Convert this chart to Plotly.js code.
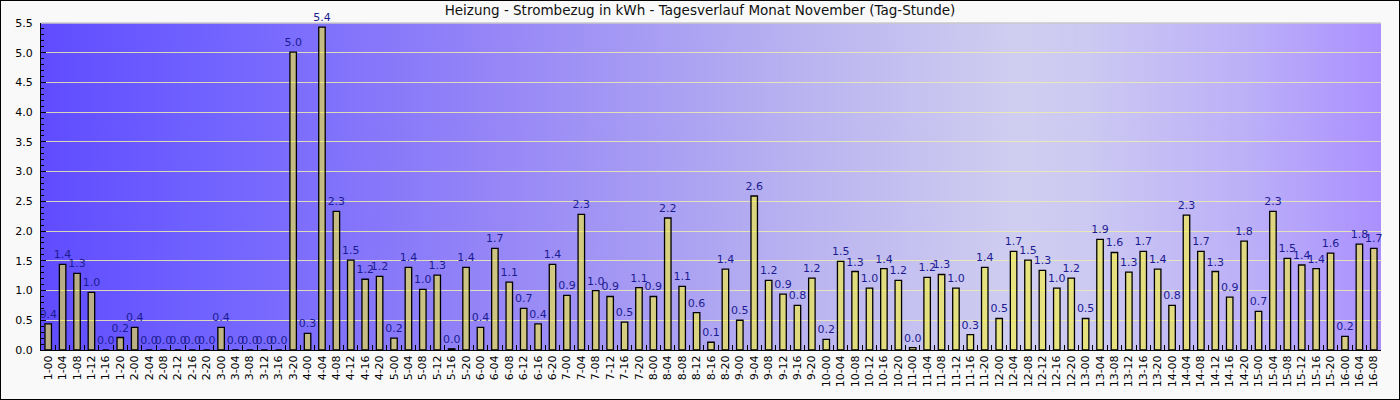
<!DOCTYPE html>
<html>
<head>
<meta charset="utf-8">
<script src="https://cdn.plot.ly/plotly-3.0.1.min.js"></script>
<style>
html,body{margin:0;padding:0;background:#f9f9f9;}
#chart{width:1398px;height:398px;border:1px solid #000;background:#f9f9f9;}
</style>
</head>
<body>
<div id="chart"></div>
<script>
// Category labels (Tag-Stunde)
const categories = [
 "1-00","1-04","1-08","1-12","1-16","1-20",
 "2-00","2-04","2-08","2-12","2-16","2-20",
 "3-00","3-04","3-08","3-12","3-16","3-20",
 "4-00","4-04","4-08","4-12","4-16","4-20",
 "5-00","5-04","5-08","5-12","5-16","5-20",
 "6-00","6-04","6-08","6-12","6-16","6-20",
 "7-00","7-04","7-08","7-12","7-16","7-20",
 "8-00","8-04","8-08","8-12","8-16","8-20",
 "9-00","9-04","9-08","9-12","9-16","9-20",
 "10-00","10-04","10-08","10-12","10-16","10-20",
 "11-00","11-04","11-08","11-12","11-16","11-20",
 "12-00","12-04","12-08","12-12","12-16","12-20",
 "13-00","13-04","13-08","13-12","13-16","13-20",
 "14-00","14-04","14-08","14-12","14-16","14-20",
 "15-00","15-04","15-08","15-12","15-16","15-20",
 "16-00","16-04","16-08"
];

// kWh values
const values = [
 0.44,1.44,1.29,0.97,0.0,0.21,
 0.38,0.0,0.0,0.0,0.0,0.0,
 0.38,0.0,0.0,0.0,0.0,5.01,
 0.28,5.43,2.33,1.51,1.19,1.24,
 0.20,1.39,1.02,1.26,0.02,1.39,
 0.38,1.71,1.14,0.70,0.44,1.44,
 0.92,2.28,1.00,0.90,0.47,1.05,
 0.90,2.22,1.07,0.63,0.13,1.36,
 0.50,2.59,1.17,0.94,0.75,1.21,
 0.18,1.49,1.32,1.04,1.37,1.17,
 0.04,1.22,1.27,1.04,0.26,1.39,
 0.53,1.66,1.51,1.34,1.04,1.21,
 0.53,1.86,1.64,1.31,1.66,1.36,
 0.75,2.27,1.66,1.32,0.89,1.83,
 0.65,2.33,1.54,1.43,1.37,1.63,
 0.23,1.78,1.71
];

const yTickValues = [0,0.5,1.0,1.5,2.0,2.5,3.0,3.5,4.0,4.5,5.0,5.5];

// background gradient for the plot area
function gradientImage(){
  const c = document.createElement('canvas');
  c.width = 1340; c.height = 8;
  const g = c.getContext('2d');
  const lg = g.createLinearGradient(0,0,c.width,0);
  lg.addColorStop(0.00,'rgb(96,76,255)');
  lg.addColorStop(0.12,'rgb(112,98,255)');
  lg.addColorStop(0.34,'rgb(150,134,247)');
  lg.addColorStop(0.57,'rgb(186,180,240)');
  lg.addColorStop(0.73,'rgb(208,206,240)');
  lg.addColorStop(0.78,'rgb(204,201,242)');
  lg.addColorStop(0.90,'rgb(188,176,248)');
  lg.addColorStop(1.00,'rgb(170,144,255)');
  g.fillStyle = lg;
  g.fillRect(0,0,c.width,c.height);
  return c.toDataURL('image/png');
}

const trace = {
  type:'bar',
  x: categories,
  y: values,
  marker:{color:'rgba(250,244,40,0.57)', line:{color:'#000', width:1.3}},
  texttemplate: '%{y:.1f}',
  textposition:'outside',
  textangle:0,
  constraintext:'none',
  cliponaxis:false,
  textfont:{family:'DejaVu Sans', size:11, color:'#1c1c92'},
  hoverinfo:'skip'
};

const layout = {
  width:1398, height:398,
  margin:{l:40, r:18, t:22, b:49, pad:0},
  paper_bgcolor:'#f9f9f9',
  plot_bgcolor:'rgba(0,0,0,0)',
  font:{family:'DejaVu Sans', size:11, color:'#000'},
  title:{text:'Heizung - Strombezug in kWh - Tagesverlauf Monat November (Tag-Stunde)',
         font:{family:'DejaVu Sans', size:13.5, color:'#111'},
         x:0.5, xanchor:'center', y:0.976, yanchor:'middle', yref:'container'},
  bargap:0.55,
  showlegend:false,
  xaxis:{
    type:'category',
    tickangle:-90,
    tickson:'boundaries',
    ticks:'inside', ticklen:5, tickcolor:'#000', tickwidth:1,
    showline:true, linecolor:'#000', linewidth:1,
    showgrid:false, zeroline:false,
    tickfont:{family:'DejaVu Sans', size:11, color:'#000'},
    automargin:false
  },
  yaxis:{
    range:[0,5.5],
    tickvals:yTickValues,
    tickformat:'.1f',
    ticks:'inside', ticklen:5, tickcolor:'#000', tickwidth:1,
    ticklabelstandoff:5,
    minor:{dtick:0.1, ticks:'inside', ticklen:3, tickcolor:'#000', showgrid:false},
    showline:true, linecolor:'#000', linewidth:1,
    showgrid:true, gridcolor:'rgba(236,236,176,0.85)', gridwidth:1,
    zeroline:false,
    tickfont:{family:'DejaVu Sans', size:11, color:'#000'},
    automargin:false
  },
  images:[{
    source: gradientImage(),
    xref:'paper', yref:'paper', x:0, y:1, sizex:1, sizey:1,
    xanchor:'left', yanchor:'top', sizing:'stretch', layer:'below'
  }],
  shapes:[{
    type:'line', xref:'paper', yref:'paper', x0:0, x1:1, y0:1, y1:1,
    line:{color:'#c8c8c8', width:1.5}
  }]
};

Plotly.newPlot('chart',[trace],layout,{staticPlot:true, displayModeBar:false});
</script>
</body>
</html>
